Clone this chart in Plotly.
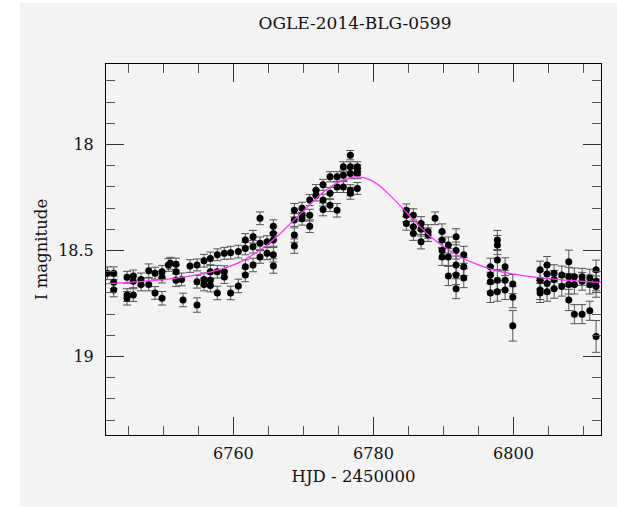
import plotly.graph_objects as go

# OGLE I-band photometry: HJD - 2450000, magnitude, 1-sigma error
hjd = [
    6742.0, 6742.9, 6742.9, 6742.9,
    6744.8, 6744.8, 6744.8,
    6745.7, 6745.7, 6745.7,
    6746.8, 6746.8,
    6747.9, 6747.9,
    6748.8, 6748.8,
    6749.8, 6749.8, 6749.8,
    6750.7, 6751.0,
    6751.8, 6751.8, 6751.8,
    6752.6, 6752.8,
    6753.8,
    6754.8, 6754.8, 6754.8,
    6755.8, 6755.8, 6755.8,
    6756.7, 6756.7, 6756.7, 6756.7,
    6757.7, 6757.7, 6757.7,
    6758.7, 6758.7, 6758.7,
    6759.6, 6759.6,
    6760.7, 6760.7,
    6761.7, 6761.7, 6761.7, 6761.7,
    6762.8, 6762.8, 6762.8,
    6763.8, 6763.8, 6763.8,
    6764.8, 6764.8,
    6765.7, 6765.7, 6765.7, 6765.7, 6765.7,
    6768.7, 6768.7, 6768.7, 6768.7,
    6769.8, 6769.8, 6769.8,
    6770.9, 6770.9, 6770.9,
    6771.8, 6771.8,
    6772.8, 6772.8, 6772.8,
    6773.8, 6773.8, 6773.8,
    6774.8, 6774.8, 6774.8,
    6775.7, 6775.7, 6775.7,
    6776.7, 6776.7, 6776.7, 6776.7, 6776.7,
    6777.7, 6777.7, 6777.7, 6777.7,
    6784.7, 6784.7, 6784.7,
    6785.7, 6785.7, 6785.7,
    6786.8, 6786.8, 6786.8,
    6787.8, 6787.8,
    6788.8,
    6789.8, 6789.8, 6789.8, 6789.8,
    6790.7, 6790.7, 6790.7,
    6791.8, 6791.8, 6791.8, 6791.8, 6791.8,
    6792.9, 6792.9, 6792.9,
    6796.7, 6796.7, 6796.7, 6796.7,
    6797.7, 6797.7, 6797.7, 6797.7, 6797.7,
    6798.8, 6798.8, 6798.8,
    6799.9, 6799.9, 6799.9,
    6803.8, 6803.8, 6803.8, 6803.8,
    6804.8, 6804.8, 6804.8, 6804.8,
    6805.8, 6805.8, 6805.8,
    6806.9, 6806.9,
    6807.9, 6807.9, 6807.9, 6807.9,
    6808.7, 6808.7, 6808.7,
    6809.8, 6809.8, 6809.8,
    6810.9, 6810.9, 6810.9,
    6811.8, 6811.8, 6811.8, 6811.8,
]
imag = [
    18.607, 18.607, 18.650, 18.686,
    18.626, 18.710, 18.725,
    18.620, 18.645, 18.710,
    18.636, 18.660,
    18.595, 18.660,
    18.607, 18.700,
    18.600, 18.625, 18.725,
    18.568, 18.560,
    18.564, 18.600, 18.640,
    18.636, 18.733,
    18.573,
    18.568, 18.647, 18.757,
    18.548, 18.636, 18.660,
    18.537, 18.600, 18.640, 18.665,
    18.520, 18.600, 18.700,
    18.513, 18.600, 18.625,
    18.510, 18.700,
    18.505, 18.667,
    18.450, 18.490, 18.576, 18.615,
    18.435, 18.482, 18.568,
    18.348, 18.466, 18.530,
    18.458, 18.513,
    18.385, 18.420, 18.450, 18.520, 18.573,
    18.310, 18.356, 18.427, 18.479,
    18.300, 18.333, 18.350,
    18.262, 18.333, 18.385,
    18.215, 18.240,
    18.190, 18.262, 18.306,
    18.152, 18.230, 18.286,
    18.152, 18.200, 18.310,
    18.105, 18.145, 18.200,
    18.050, 18.105, 18.137, 18.215, 18.230,
    18.105, 18.120, 18.137, 18.207,
    18.310, 18.333, 18.372,
    18.333, 18.388, 18.420,
    18.372, 18.400, 18.458,
    18.410, 18.425,
    18.348,
    18.410, 18.450, 18.500, 18.530,
    18.474, 18.530, 18.620,
    18.435, 18.500, 18.568, 18.615, 18.680,
    18.520, 18.576, 18.630,
    18.576, 18.615, 18.647, 18.700,
    18.450, 18.474, 18.545, 18.640, 18.694,
    18.576, 18.640, 18.686,
    18.658, 18.720, 18.855,
    18.590, 18.640, 18.686, 18.700,
    18.568, 18.610, 18.655, 18.694,
    18.607, 18.636, 18.680,
    18.615, 18.670,
    18.553, 18.624, 18.660, 18.733,
    18.624, 18.660, 18.800,
    18.624, 18.645, 18.800,
    18.630, 18.660, 18.784,
    18.590, 18.645, 18.670, 18.905,
]
ierr = [
    0.030, 0.030, 0.030, 0.032,
    0.028, 0.030, 0.032,
    0.028, 0.030, 0.030,
    0.030, 0.030,
    0.032, 0.030,
    0.028, 0.030,
    0.030, 0.028, 0.032,
    0.030, 0.028,
    0.028, 0.030, 0.030,
    0.030, 0.032,
    0.030,
    0.028, 0.030, 0.034,
    0.030, 0.030, 0.030,
    0.030, 0.030, 0.030, 0.030,
    0.028, 0.030, 0.032,
    0.028, 0.028, 0.030,
    0.030, 0.032,
    0.030, 0.032,
    0.030, 0.030, 0.032, 0.032,
    0.030, 0.030, 0.032,
    0.030, 0.030, 0.030,
    0.028, 0.030,
    0.030, 0.030, 0.030, 0.034, 0.034,
    0.032, 0.030, 0.034, 0.034,
    0.028, 0.028, 0.030,
    0.026, 0.028, 0.030,
    0.026, 0.026,
    0.026, 0.028, 0.030,
    0.024, 0.028, 0.030,
    0.024, 0.026, 0.032,
    0.024, 0.024, 0.026,
    0.022, 0.024, 0.024, 0.026, 0.028,
    0.024, 0.024, 0.024, 0.028,
    0.030, 0.030, 0.032,
    0.030, 0.032, 0.032,
    0.032, 0.032, 0.034,
    0.032, 0.032,
    0.030,
    0.036, 0.036, 0.040, 0.040,
    0.038, 0.040, 0.045,
    0.038, 0.040, 0.042, 0.045, 0.047,
    0.040, 0.042, 0.045,
    0.040, 0.042, 0.045, 0.045,
    0.045, 0.045, 0.045, 0.045, 0.045,
    0.042, 0.045, 0.045,
    0.045, 0.050, 0.072,
    0.040, 0.042, 0.045, 0.045,
    0.040, 0.042, 0.045, 0.045,
    0.040, 0.042, 0.045,
    0.042, 0.045,
    0.055, 0.045, 0.045, 0.050,
    0.042, 0.045, 0.045,
    0.040, 0.042, 0.045,
    0.042, 0.045, 0.045,
    0.045, 0.045, 0.050, 0.075,
]

# Best-fit point-lens model, sampled along the light curve
model_hjd = [
    6741.8, 6745.0, 6750.0, 6755.0, 6758.0, 6761.0, 6763.0, 6765.0,
    6767.0, 6769.0, 6771.0, 6773.0, 6775.0, 6776.5, 6777.8, 6779.0,
    6780.5, 6782.0, 6784.0, 6786.0, 6788.0, 6790.0, 6792.0, 6794.0,
    6797.0, 6800.0, 6805.0, 6809.5, 6812.5,
]
model_mag = [
    18.656, 18.650, 18.637, 18.614, 18.590, 18.553, 18.515, 18.468,
    18.410, 18.345, 18.280, 18.220, 18.177, 18.158, 18.152, 18.160,
    18.185, 18.228, 18.295, 18.365, 18.430, 18.480, 18.522, 18.555,
    18.590, 18.611, 18.632, 18.644, 18.650,
]

x_range = [6741.8, 6812.5]
y_range = [19.37, 17.62]

FONT = "DejaVu Serif"
BG = "#f3f3f3"

fig = go.Figure()

fig.add_trace(go.Scatter(
    x=hjd, y=imag,
    mode="markers",
    marker=dict(color="black", size=7, line=dict(width=0)),
    error_y=dict(type="data", array=ierr, visible=True,
                 color="#555555", thickness=1, width=4),
    showlegend=False,
    hoverinfo="x+y",
))

fig.add_trace(go.Scatter(
    x=model_hjd, y=model_mag,
    mode="lines",
    line=dict(color="#ff33ff", width=1.3, shape="spline", smoothing=0.8),
    showlegend=False,
    hoverinfo="skip",
))

W, H = 617, 507
ml, mr, mt, mb = 106, 16, 64, 72
pw, ph = W - ml - mr, H - mt - mb

def px_to_paper_x(px):
    return (px - ml) / pw

def px_to_paper_y(py):
    return (H - mb - py) / ph

# grey panel that frames the whole figure (white strip at left and top)
fig.add_shape(
    type="rect", xref="paper", yref="paper",
    x0=px_to_paper_x(20), x1=px_to_paper_x(W + 5),
    y0=px_to_paper_y(H + 5), y1=px_to_paper_y(3),
    fillcolor=BG, line=dict(width=0), layer="below",
)

axis_common = dict(
    showline=True, linecolor="black", linewidth=1,
    mirror="allticks", ticks="inside", ticklen=18, tickwidth=1,
    tickcolor="#333333", showgrid=False, zeroline=False,
    tickfont=dict(family=FONT, size=16, color="#111111"),
)

fig.update_xaxes(
    range=x_range, dtick=20, tick0=6760,
    minor=dict(dtick=5, ticklen=9, tickcolor="#555555", ticks="inside", showgrid=False),
    title=dict(text="HJD - 2450000", font=dict(family=FONT, size=16.5, color="#111111"),
               standoff=8),
    ticklabelstandoff=4,
    **axis_common,
)
fig.update_yaxes(
    range=y_range, dtick=0.5, tick0=18,
    minor=dict(dtick=0.1, ticklen=9, tickcolor="#555555", ticks="inside", showgrid=False),
    title=dict(text="I magnitude", font=dict(family=FONT, size=16.5, color="#111111"),
               standoff=6),
    ticklabelstandoff=8,
    **axis_common,
)

fig.update_layout(
    width=W, height=H,
    margin=dict(l=ml, r=mr, t=mt, b=mb, autoexpand=False),
    paper_bgcolor="white",
    plot_bgcolor=BG,
    title=dict(text="OGLE-2014-BLG-0599", x=px_to_paper_x(355), xref="paper",
               xanchor="center", y=1 - 23 / H, yref="container", yanchor="middle",
               font=dict(family=FONT, size=17, color="#111111")),
)

fig.write_html("out.html")
